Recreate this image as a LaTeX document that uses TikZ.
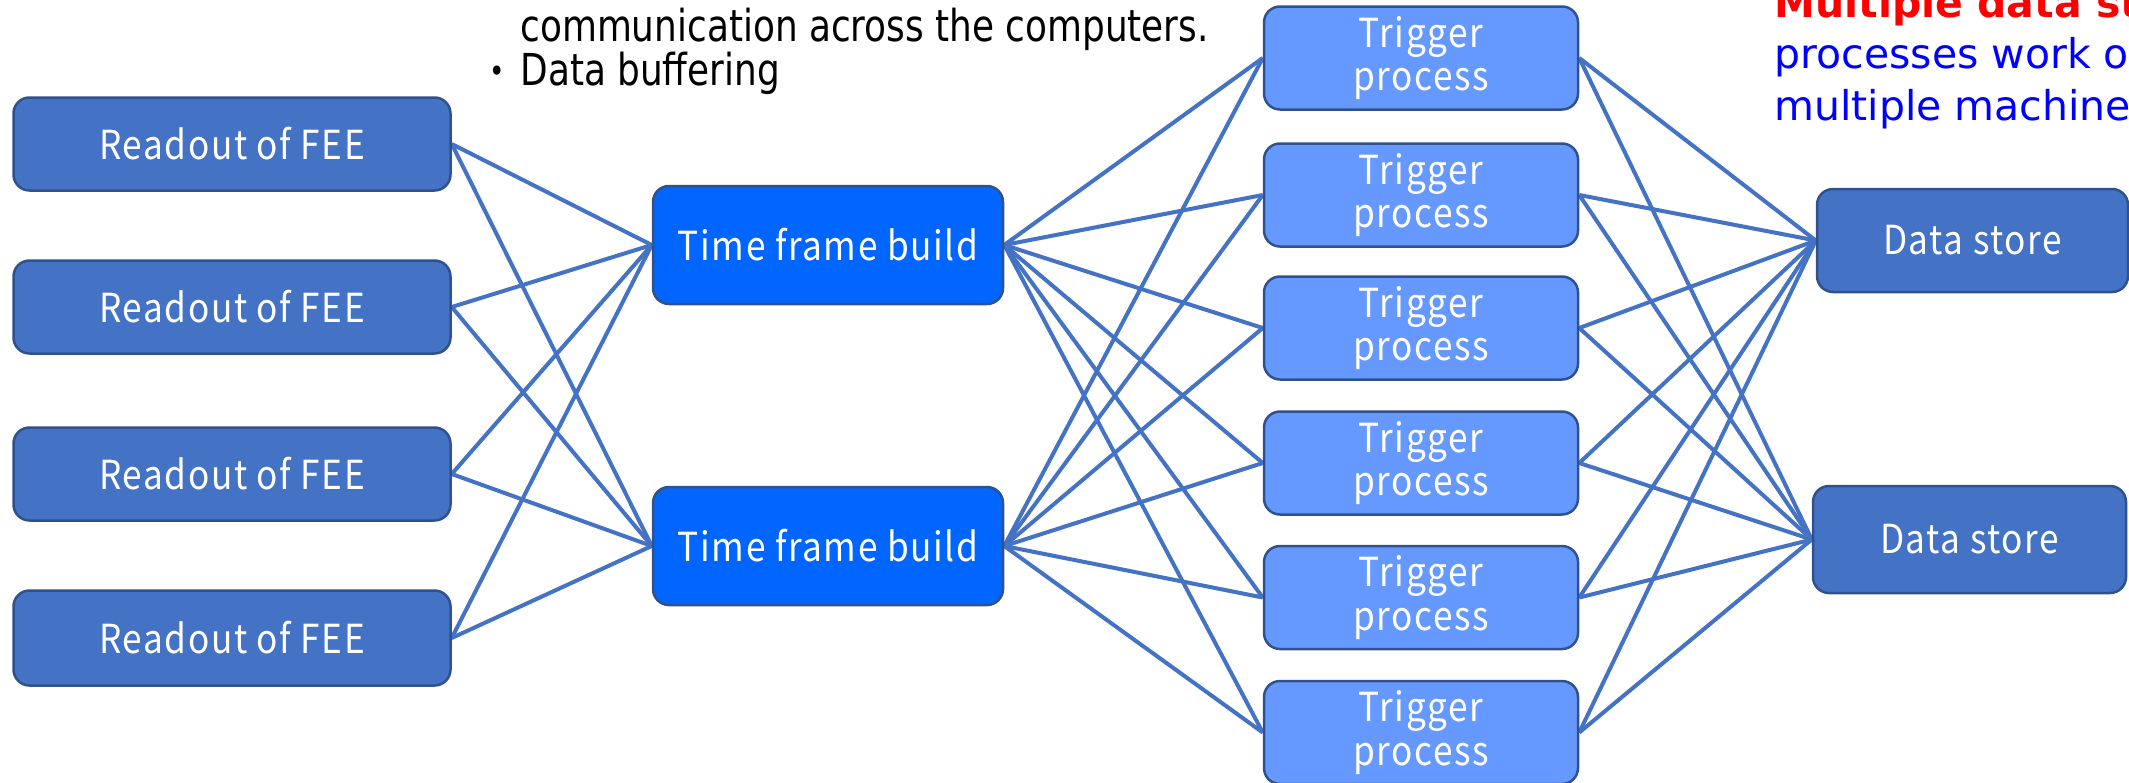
\documentclass[tikz,border=0pt]{standalone}
\usepackage{fontspec}
\setmainfont{DejaVu Sans}
\newfontfamily\boxfont{Noto Sans CJK JP}[FakeStretch=0.88, LetterSpace=4]
\newfontfamily\topfont{DejaVu Sans}[FakeStretch=0.815]
\definecolor{office}{HTML}{4472C4}
\definecolor{boxborder}{HTML}{2F528F}
\definecolor{tfblue}{HTML}{0066FF}
\definecolor{trigblue}{HTML}{6699FF}
\definecolor{linkblue}{HTML}{4472C4}
\definecolor{txtblue}{HTML}{0000FF}
\definecolor{txtred}{HTML}{FF0000}
\pgfdeclarelayer{bg}
\pgfsetlayers{bg,main}
\tikzset{
  box/.style={rectangle, rounded corners=8pt, draw=boxborder, line width=1.25pt,
    text=white, align=center, inner sep=0pt,
    font=\boxfont\fontsize{20}{21.75}\selectfont},
  readout/.style={box, fill=office, minimum width=218.5pt, minimum height=46.5pt},
  tfbox/.style={box, fill=tfblue, minimum width=175pt, minimum height=59pt},
  trigbox/.style={box, fill=trigblue, minimum width=157pt, minimum height=51.5pt},
  dsbox/.style={box, fill=office, minimum width=155.5pt, minimum height=51.5pt},
  link/.style={draw=linkblue, line width=2pt},
  toptext/.style={anchor=base west, inner sep=0pt, font=\topfont\fontsize{22}{22}\selectfont},
  righttext/.style={anchor=base west, inner sep=0pt, font=\fontsize{20.5}{22}\selectfont, text=txtblue}
}
\begin{document}
\begin{tikzpicture}[x=0.5pt,y=-0.5pt]
\useasboundingbox (0,0) rectangle (2129,782);
\clip (0,0) rectangle (2129,782);
% readout boxes
\node[readout] (r1) at (232,144) {Readout of FEE};
\node[readout] (r2) at (232,307) {Readout of FEE};
\node[readout] (r3) at (232,474) {Readout of FEE};
\node[readout, minimum height=47.5pt] (r4) at (232,638) {Readout of FEE};
% time frame build
\node[tfbox] (f1) at (828,245) {Time frame build};
\node[tfbox] (f2) at (828,546) {Time frame build};
% trigger processes
\node[trigbox] (t1) at (1421,58) {Trigger\\process};
\node[trigbox] (t2) at (1421,195) {Trigger\\process};
\node[trigbox] (t3) at (1421,328) {Trigger\\process};
\node[trigbox] (t4) at (1421,463) {Trigger\\process};
\node[trigbox] (t5) at (1421,597.5) {Trigger\\process};
\node[trigbox] (t6) at (1421,732.5) {Trigger\\process};
% data stores
\node[dsbox] (d1) at (1972.5,240.5) {Data store};
\node[dsbox, minimum width=156.5pt, minimum height=53.5pt] (d2) at (1969.5,539.5) {Data store};
% connectors
\begin{pgfonlayer}{bg}
\foreach \r in {r1,r2,r3,r4}{
  \foreach \f in {f1,f2}{
    \draw[link] (\r.east) -- (\f.west);
  }
}
\foreach \f in {f1,f2}{
  \foreach \t in {t1,t2,t3,t4,t5,t6}{
    \draw[link] (\f.east) -- (\t.west);
  }
}
\foreach \t in {t1,t2,t3,t4,t5,t6}{
  \foreach \d in {d1,d2}{
    \draw[link] (\t.east) -- (\d.west);
  }
}
\end{pgfonlayer}
% top text
\node[toptext] (l1) at (520,41) {communication across the computers.};
\node[toptext, font=\topfont\fontsize{16}{16}\selectfont] (b2) at (489,82) {•};
\node[toptext] (l2) at (520,85) {Data buffering};
% right text
\node[righttext, text=txtred, font=\bfseries\fontsize{20.5}{22}\selectfont] (m1) at (1774,17) {Multiple data st};
\node[righttext] (m2) at (1774,68) {processes work o};
\node[righttext] (m3) at (1774,120) {multiple machine};
\end{tikzpicture}
\end{document}
